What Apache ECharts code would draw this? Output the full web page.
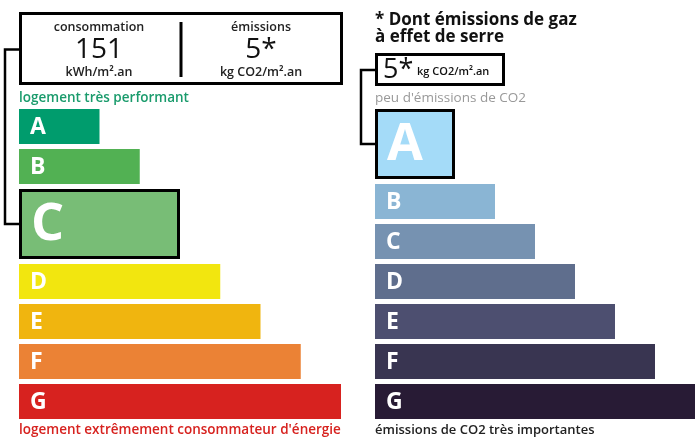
<!DOCTYPE html>
<html><head><meta charset="utf-8">
<script src="https://cdn.jsdelivr.net/npm/echarts@6/dist/echarts.min.js"></script>
<style>html,body{margin:0;padding:0;background:#fff}#c{width:699px;height:438px}</style>
</head><body><div id="c"></div>
<script>
// ---- data ----
const classes = ['A', 'B', 'C', 'D', 'E', 'F', 'G'];
const energyWidths = [2, 3, 4, 5, 6, 7, 8];
const climateWidths = [2, 3, 4, 5, 6, 7, 8];
const energyColors = ['#009c6d', '#52b153', '#78bd76', '#f2e60f', '#f0b50f', '#eb8235', '#d7221f'];
const climateColors = ['#a4dbf8', '#8ab5d4', '#7692b1', '#5f6e8d', '#4d4f70', '#393551', '#281b35'];
const energyClass = 'C';
const climateClass = 'A';
const consumption = '151';
const emissions = '5*';
const consumptionUnit = 'kWh/m².an';
const emissionsUnit = 'kg CO2/m².an';

const FONT = '"Open Sans", "DejaVu Sans", sans-serif';

// rows: normal bar = 7 units, highlighted = 14 units, gap = 1 unit
function buildRows(widths, hiIdx) {
  let y = 0;
  return widths.map((w, i) => {
    const span = i === hiIdx ? 14 : 7;
    const r = [w, y, y + span, i];
    y += span + 1;
    return r;
  });
}
const eHi = classes.indexOf(energyClass);
const cHi = classes.indexOf(climateClass);
const energyRows = buildRows(energyWidths, eHi);
const climateRows = buildRows(climateWidths, cHi);

function makeRender(colors, hiIdx) {
  return function (params, api) {
    const v = api.value(0), y0 = api.value(1), y1 = api.value(2), i = api.value(3);
    const p0 = api.coord([0, y0]), p1 = api.coord([v, y1]);
    const hi = i === hiIdx;
    const x = p0[0], y = p0[1], w = p1[0] - p0[0], h = p1[1] - p0[1];
    const children = [];
    if (hi) {
      children.push({ type: 'rect', shape: { x: x + 1.5, y: y + 1.5, width: w - 3, height: h - 3 },
        style: { fill: colors[i], stroke: '#000', lineWidth: 3 } });
    } else {
      children.push({ type: 'rect', shape: { x: x, y: y, width: w, height: h }, style: { fill: colors[i] } });
    }
    children.push({ type: 'text', style: {
      text: classes[i], x: x + (hi ? 12 : 11), y: y + h / 2 + 1,
      verticalAlign: 'middle', align: 'left', fill: '#fff',
      font: 'bold ' + (hi ? 52 : 23) + 'px ' + FONT } });
    return { type: 'group', children: children };
  };
}

const chart = echarts.init(document.getElementById('c'), null, { renderer: 'canvas' });

function txt(text, x, y, size, weight, fill, align) {
  return { type: 'text', silent: true, style: { text: text, x: x, y: y, align: align || 'center', verticalAlign: 'middle',
    fill: fill, font: (weight || 'normal') + ' ' + size + 'px ' + FONT } };
}

const option = {
  animation: false,
  backgroundColor: '#fff',
  grid: [
    { left: 19, top: 109, width: 322, height: 310 },
    { left: 375, top: 109, width: 320, height: 310 }
  ],
  xAxis: [
    { type: 'value', gridIndex: 0, min: 0, max: 8, show: false },
    { type: 'value', gridIndex: 1, min: 0, max: 8, show: false }
  ],
  yAxis: [
    { type: 'value', gridIndex: 0, min: 0, max: 62, inverse: true, show: false },
    { type: 'value', gridIndex: 1, min: 0, max: 62, inverse: true, show: false }
  ],
  series: [
    { type: 'custom', xAxisIndex: 0, yAxisIndex: 0, data: energyRows, renderItem: makeRender(energyColors, eHi), silent: true },
    { type: 'custom', xAxisIndex: 1, yAxisIndex: 1, data: climateRows, renderItem: makeRender(climateColors, cHi), silent: true }
  ]
};
chart.setOption(option);

const eMidY = chart.convertToPixel({ yAxisIndex: 0 }, (energyRows[eHi][1] + energyRows[eHi][2]) / 2);
const cMidY = chart.convertToPixel({ yAxisIndex: 1 }, (climateRows[cHi][1] + climateRows[cHi][2]) / 2);

chart.setOption({
  graphic: [
    // left top box
    { type: 'rect', shape: { x: 20.5, y: 13.5, width: 321, height: 70 }, style: { fill: '#fff', stroke: '#000', lineWidth: 3 } },
    { type: 'line', shape: { x1: 181, y1: 22, x2: 181, y2: 77 }, style: { stroke: '#000', lineWidth: 3 } },
    txt('consommation', 99, 27, 12.5, '600', '#222'),
    txt(consumption, 99, 50, 28, 'normal', '#111'),
    txt(consumptionUnit, 99, 72, 12.5, '600', '#222'),
    txt('émissions', 261, 27, 12.5, '600', '#222'),
    txt(emissions, 261, 50, 28, 'normal', '#111'),
    txt(emissionsUnit, 261, 72, 12.5, '600', '#222'),
    // left connector
    { type: 'polyline', shape: { points: [[19, 49.5], [5, 49.5], [5, eMidY], [19, eMidY]] }, style: { stroke: '#000', lineWidth: 2.5, fill: null } },
    txt('logement très performant', 19, 98, 13.5, '600', '#1a9b6c', 'left'),
    txt('logement extrêmement consommateur d\'énergie', 19, 430, 13.5, '600', '#d7221f', 'left'),
    // right heading
    txt('* Dont émissions de gaz', 375, 20, 17, 'bold', '#111', 'left'),
    txt('à effet de serre', 375, 37.5, 17, 'bold', '#111', 'left'),
    { type: 'rect', shape: { x: 376.5, y: 54.5, width: 127, height: 30 }, style: { fill: '#fff', stroke: '#000', lineWidth: 3 } },
    txt(emissions, 383, 70, 27, 'normal', '#111', 'left'),
    txt(emissionsUnit, 417, 72, 11, '600', '#111', 'left'),
    { type: 'polyline', shape: { points: [[375, 70], [361, 70], [361, cMidY], [375, cMidY]] }, style: { stroke: '#000', lineWidth: 2.5, fill: null } },
    txt('peu d\'émissions de CO2', 375, 98, 13.5, 'normal', '#999', 'left'),
    txt('émissions de CO2 très importantes', 375, 430, 13, '600', '#222', 'left')
  ]
});
</script>
</body></html>
